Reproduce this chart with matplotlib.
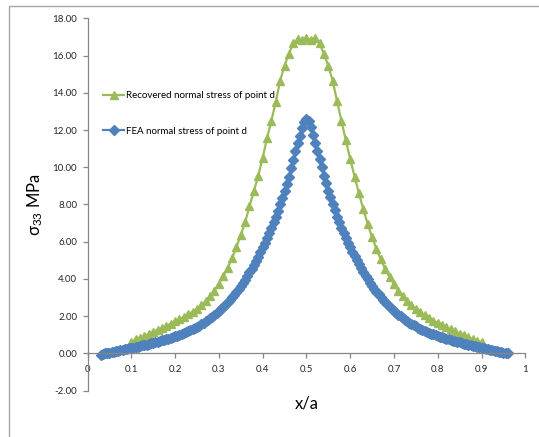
import numpy as np
import matplotlib
matplotlib.use('Agg')
import matplotlib.pyplot as plt
from matplotlib.patches import Rectangle

plt.rcParams['font.family'] = ['Lato', 'DejaVu Sans']
plt.rcParams['mathtext.default'] = 'regular'

# FEA normal stress, x/a = 0.030 ... 0.960 step 0.005
fea_x = np.round(np.arange(0.030, 0.9601, 0.005), 3)
fea_y = [
    -0.06, -0.03, 0.00, 0.02, 0.05, 0.07, 0.10, 0.12, 0.15, 0.17,
    0.20, 0.22, 0.25, 0.27, 0.30, 0.32, 0.35, 0.37, 0.40, 0.43,
    0.45, 0.48, 0.51, 0.54, 0.57, 0.60, 0.63, 0.66, 0.70, 0.73,
    0.76, 0.80, 0.84, 0.88, 0.92, 0.96, 1.00, 1.05, 1.10, 1.15,
    1.20, 1.25, 1.31, 1.37, 1.43, 1.50, 1.57, 1.64, 1.72, 1.80,
    1.89, 1.98, 2.07, 2.17, 2.27, 2.38, 2.49, 2.61, 2.74, 2.87,
    3.01, 3.15, 3.30, 3.46, 3.62, 3.79, 3.97, 4.16, 4.35, 4.55,
    4.76, 4.98, 5.20, 5.45, 5.70, 5.95, 6.20, 6.45, 6.75, 7.05,
    7.35, 7.65, 8.00, 8.35, 8.70, 9.10, 9.50, 9.95, 10.40, 10.85,
    11.30, 11.70, 12.10, 12.45, 12.60,
    12.50, 12.15, 11.75, 11.30, 10.85, 10.45, 10.00, 9.55, 9.15, 8.75,
    8.40, 8.05, 7.70, 7.35, 7.05, 6.75, 6.45, 6.20, 5.95, 5.70,
    5.45, 5.22, 5.00, 4.78, 4.57, 4.37, 4.18, 3.99, 3.81, 3.64,
    3.48, 3.32, 3.17, 3.03, 2.89, 2.76, 2.63, 2.51, 2.40, 2.29,
    2.19, 2.09, 2.00, 1.91, 1.82, 1.74, 1.66, 1.59, 1.52, 1.45,
    1.39, 1.33, 1.27, 1.22, 1.17, 1.12, 1.07, 1.02, 0.98, 0.94,
    0.90, 0.86, 0.82, 0.78, 0.75, 0.72, 0.68, 0.65, 0.62, 0.59,
    0.56, 0.53, 0.50, 0.47, 0.44, 0.42, 0.39, 0.36, 0.34, 0.31,
    0.28, 0.26, 0.23, 0.20, 0.18, 0.15, 0.13, 0.10, 0.08, 0.05,
    0.03, 0.01,
]

# recovered normal stress, x/a = 0.10 ... 0.90 step 0.01
rec_x = np.round(np.arange(0.10, 0.9001, 0.01), 2)
rec_y = [
    0.62, 0.75, 0.85, 0.95, 1.05, 1.15, 1.26, 1.37, 1.48, 1.60,
    1.72, 1.83, 1.96, 2.10, 2.24, 2.40, 2.58, 2.80, 3.06, 3.38,
    3.75, 4.15, 4.60, 5.10, 5.70, 6.35, 7.05, 7.90, 8.70, 9.55,
    10.50, 11.55, 12.50, 13.50, 14.65, 15.45, 16.10, 16.65, 16.90, 16.85,
    16.95,
    16.85, 16.95, 16.65, 16.10, 15.45, 14.65, 13.55, 12.50, 11.45, 10.45,
    9.50, 8.60, 7.75, 6.95, 6.25, 5.60, 5.05, 4.55, 4.10, 3.72,
    3.38, 3.08, 2.82, 2.58, 2.38, 2.20, 2.04, 1.90, 1.77, 1.64,
    1.52, 1.40, 1.29, 1.18, 1.07, 0.97, 0.87, 0.77, 0.68, 0.60,
]

xticks = [0, 0.1, 0.2, 0.3, 0.4, 0.5, 0.6, 0.7, 0.8, 0.9, 1]
xtick_labels = ['0', '0.1', '0.2', '0.3', '0.4', '0.5', '0.6', '0.7', '0.8', '0.9', '1']
yticks = [-2, 0, 2, 4, 6, 8, 10, 12, 14, 16, 18]

green = '#9BBB59'
blue = '#4F81BD'
axcol = '#868686'

fig = plt.figure(figsize=(5.39, 4.37), dpi=100)
# outer chart frame (cut at right / bottom)
fig.patches.append(Rectangle((9.3 / 539, -0.1), 1.2, 1 - 6 / 437 + 0.1,
                             transform=fig.transFigure, fill=False,
                             edgecolor='#A6A6A6', linewidth=1.0))

ax = fig.add_axes([87.5 / 539, 1 - 390.7 / 437, (525.3 - 87.5) / 539, (390.7 - 18.3) / 437])

ax.plot(rec_x, rec_y, color=green, lw=1.6, marker='^', ms=5.5,
        markeredgecolor=green, label='Recovered normal stress of point d')
ax.plot(fea_x, fea_y, color=blue, lw=1.6, marker='D', ms=4.8,
        markeredgecolor=blue, label='FEA normal stress of point d')

ax.set_xlim(0, 1)
ax.set_ylim(-2, 18)
ax.set_xticks(xticks)
ax.set_xticklabels(xtick_labels)
ax.set_yticks(yticks)
ax.set_yticklabels(['%.2f' % v for v in yticks])

ax.spines['top'].set_visible(False)
ax.spines['right'].set_visible(False)
ax.spines['bottom'].set_position(('data', 0))
for s in ('left', 'bottom'):
    ax.spines[s].set_color(axcol)
    ax.spines[s].set_linewidth(0.9)
ax.tick_params(axis='both', colors=axcol, labelcolor='#262626', labelsize=7,
               direction='out', length=3.5, width=0.9)
ax.tick_params(axis='x', pad=5)
ax.tick_params(axis='y', pad=4)

ax.set_ylabel(r'$\sigma_{33}$ MPa', fontsize=12, labelpad=5)
ax.set_xlabel('x/a', fontsize=12)
ax.xaxis.set_label_coords(0.5, -0.012)

ax.legend(loc='upper left', bbox_to_anchor=(0.035, 0.805), frameon=False,
          fontsize=7, labelspacing=2.75, handlelength=2.2, handletextpad=0.15,
          borderaxespad=0, borderpad=0)

fig.savefig('out.png', dpi=100)
